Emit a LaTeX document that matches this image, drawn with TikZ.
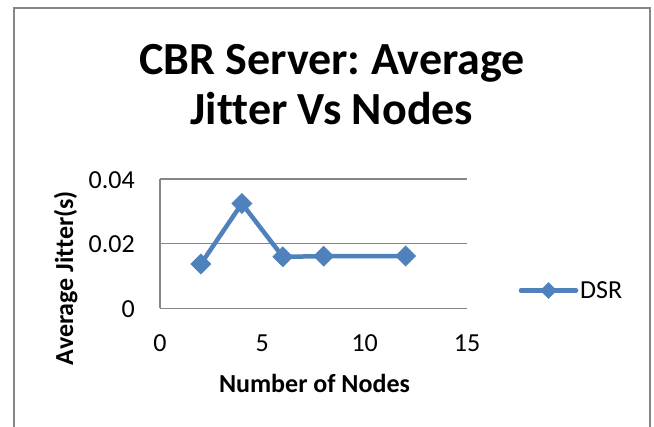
\documentclass[tikz,border=0pt]{standalone}
\usepackage{fontspec}
\setmainfont[Ligatures=NoCommon]{Carlito}
\usetikzlibrary{shapes.geometric}
\definecolor{dsrblue}{HTML}{4F81BD}
\definecolor{gridgray}{HTML}{868686}
\frenchspacing
\begin{document}
\begin{tikzpicture}[x=1pt,y=-1pt]
    \tikzstyle{dsrpt}=[diamond,fill=dsrblue,minimum size=21pt,inner sep=0pt]
    \tikzstyle{ticklbl}=[inner sep=0pt,font=\fontsize{26}{31}\selectfont]
    \tikzstyle{axlbl}=[inner sep=0pt,font=\fontsize{26}{31}\selectfont\bfseries]
    \tikzstyle{dsrline}=[draw=dsrblue,line width=4.5pt,line join=round]
    \useasboundingbox (0,0) rectangle (654,427);
    % chart frame, bottom edge lies below the page
    \draw[gridgray,line width=2pt] (14,427) -- (14,8) -- (650,8) -- (650,427);
    \node[anchor=base,inner sep=0pt,font=\fontsize{46}{50}\selectfont\bfseries] (title1) at (332,75){CBR Server: Average};
    \node[anchor=base,inner sep=0pt,font=\fontsize{46}{50}\selectfont\bfseries] (title2) at (332,125){Jitter Vs Nodes};
    % grid
    \coordinate (g0l) at (160,308.3); \coordinate (g0r) at (467,308.3);
    \coordinate (g2l) at (160,243.7); \coordinate (g2r) at (467,243.7);
    \coordinate (g4l) at (160,179); \coordinate (g4r) at (467,179);
    \draw[gridgray,line width=1.5pt] (g4l) -- (g4r) (g2l) -- (g2r) (g0l) -- (g0r);
    \draw[gridgray,line width=1.5pt] (g4l) -- (g0l);
    \node[ticklbl,anchor=east] (y4) at (135,180){0.04};
    \node[ticklbl,anchor=east] (y2) at (135,244.5){0.02};
    \node[ticklbl,anchor=east] (y0) at (135,309){0};
    \node[ticklbl] (x0) at (160,343.5){0};
    \node[ticklbl] (x5) at (262.3,343.5){5};
    \node[ticklbl] (x10) at (364.7,343.5){10};
    \node[ticklbl] (x15) at (467,343.5){15};
    \node[axlbl,anchor=base] (xlab) at (314.5,393){Number of Nodes};
    \node[axlbl,anchor=base,rotate=90] (ylab) at (73,278){Average Jitter(s)};
    % DSR series
    \node[dsrpt] (p1) at (200.9,264){};
    \node[dsrpt] (p2) at (241.9,203.5){};
    \node[dsrpt] (p3) at (282.8,256.8){};
    \node[dsrpt] (p4) at (323.7,256.2){};
    \node[dsrpt] (p5) at (405.6,256){};
    \draw[dsrline] (p1.center) -- (p2.center) -- (p3.center) -- (p4.center) -- (p5.center);
    % legend
    \coordinate (legl) at (521,290.5);
    \coordinate (legr) at (576,290.5);
    \draw[dsrline,line cap=round] (legl) -- (legr);
    \node[dsrpt,minimum size=17pt] (legpt) at (548.5,290.5){};
    \node[ticklbl,anchor=west] (legtxt) at (580,290.5){DSR};
\end{tikzpicture}
\end{document}
